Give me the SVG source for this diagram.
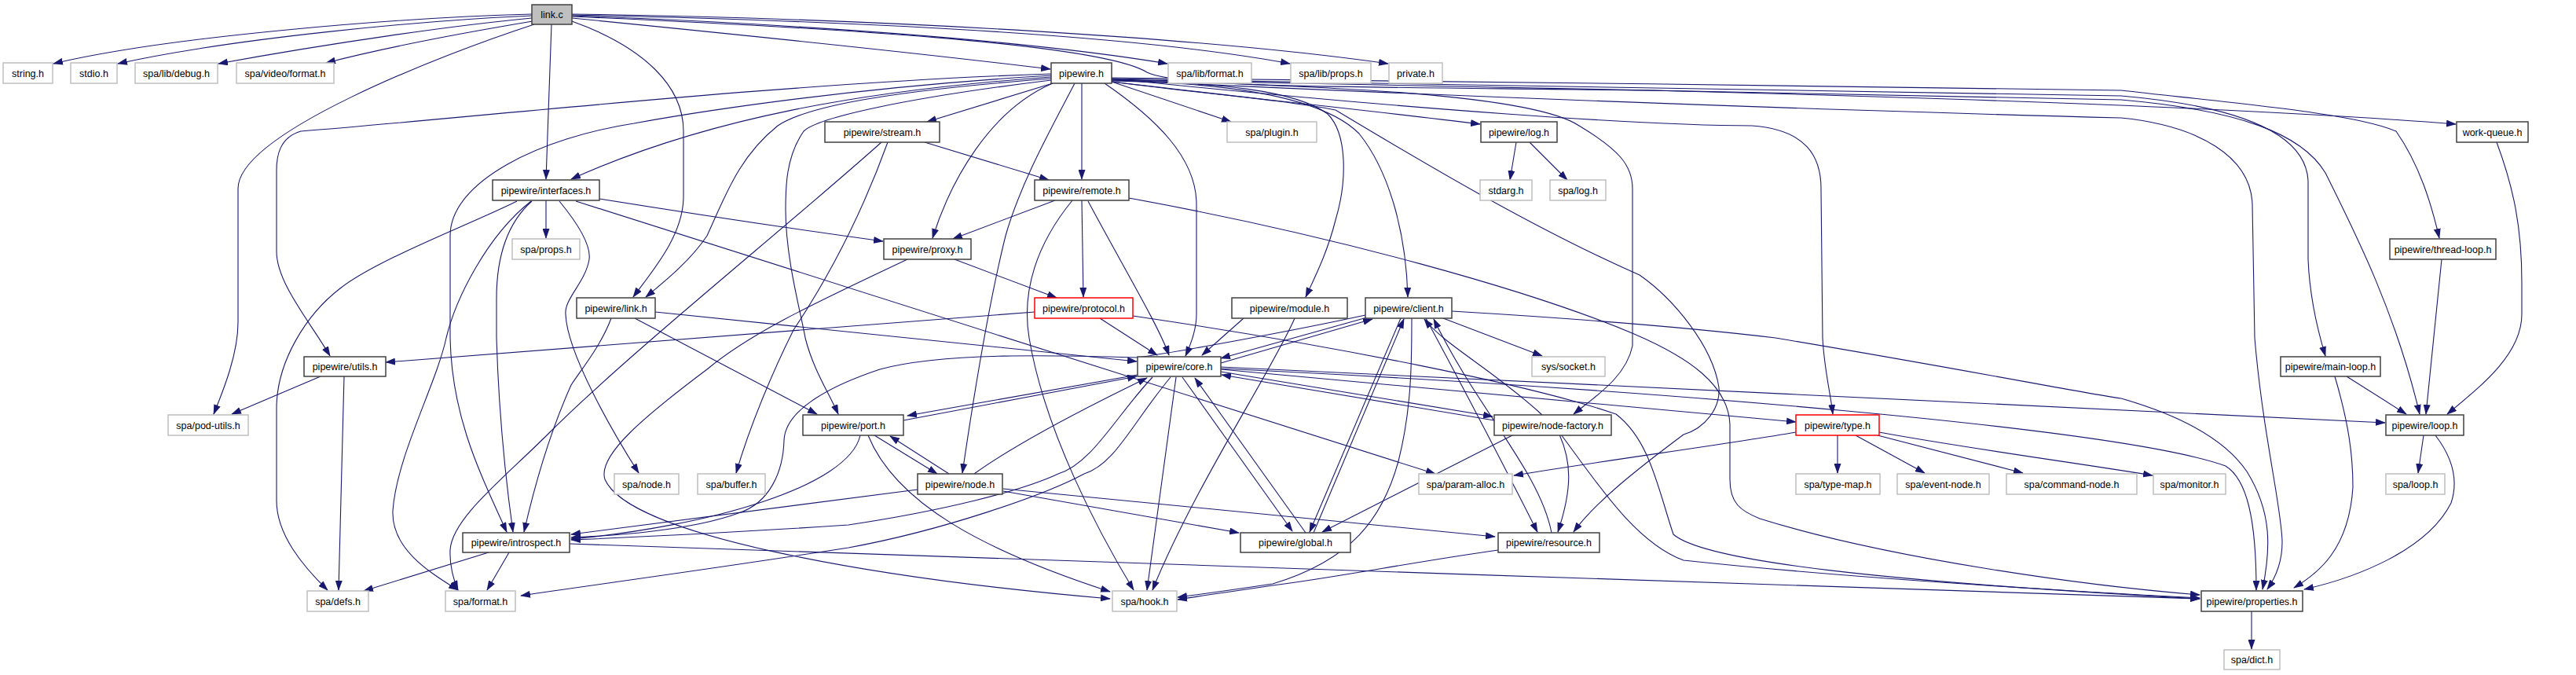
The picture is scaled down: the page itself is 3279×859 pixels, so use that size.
<svg xmlns="http://www.w3.org/2000/svg" width="3279" height="859" viewBox="0 0 3279 859">
<defs>
<marker id="a" markerWidth="13" markerHeight="9" refX="12" refY="4.5" orient="auto" markerUnits="userSpaceOnUse"><path d="M0,0 L13,4.5 L0,9 z" fill="#191970"/></marker>
<style>
.e{fill:none;stroke:#191970;stroke-width:1.1;marker-end:url(#a)}
.b rect{fill:#fff;stroke:#404040;stroke-width:1.5}
.g rect{fill:#fff;stroke:#bfbfbf;stroke-width:1.5}
.r rect{fill:#fff;stroke:#ff0000;stroke-width:1.5}
.m rect{fill:#bfbfbf;stroke:#404040;stroke-width:1.5}
text{font-family:"Liberation Sans",Arial,sans-serif;font-size:12.5px;text-anchor:middle;fill:#000}
</style>
</defs>
<rect width="3279" height="859" fill="#fff"/>
<g id="edges">
<path class="e" d="M677,18 C520,22 220,45 68,81"/>
<path class="e" d="M677,20 C540,26 300,48 150,81"/>
<path class="e" d="M677,23 C580,32 420,55 278,81"/>
<path class="e" d="M678,27 C600,40 500,58 415,80"/>
<path class="e" d="M680,31 C560,70 303,170 303,240 L303,410 C303,450 285,495 272,527"/>
<path class="e" d="M702,31 L695,228"/>
<path class="e" d="M728,27 C820,60 870,110 870,167 L870,250 C870,300 830,345 806,378"/>
<path class="e" d="M728,23 C900,40 1150,65 1337,88"/>
<path class="e" d="M728,20 C1000,30 1300,50 1486,81"/>
<path class="e" d="M728,19 C1100,27 1450,45 1642,81"/>
<path class="e" d="M728,18 C1150,24 1550,50 1767,81"/>
<path class="e" d="M728,21 C1050,35 1400,55 1460,92 C1500,112 1700,110 2100,115 C2500,125 2900,140 3126,158"/>
<path class="e" d="M1340,106 L1180,155"/>
<path class="e" d="M1377,106 L1377,228"/>
<path class="e" d="M1340,106 C1260,140 1210,230 1187,303"/>
<path class="e" d="M1338,98 C1100,115 900,150 727,228"/>
<path class="e" d="M1338,94 C1000,105 600,150 383,167 C355,175 352,200 352,217 L352,320 C352,360 395,410 420,453"/>
<path class="e" d="M1338,96 C1100,110 900,140 807,157 C690,175 573,230 573,300 L573,430 C575,530 610,600 645,677"/>
<path class="e" d="M1338,100 C1100,118 1020,140 990,160 C940,200 923,250 900,300 C880,330 850,355 822,378"/>
<path class="e" d="M1338,102 C1150,125 1040,150 1023,167 C1000,200 1000,240 1000,267 C1000,330 1020,400 1025,430 C1035,470 1055,500 1067,527"/>
<path class="e" d="M1368,106 C1340,160 1300,230 1280,300 C1260,380 1240,500 1225,602"/>
<path class="e" d="M1406,106 C1470,150 1523,200 1523,260 L1523,400 C1523,420 1515,440 1509,453"/>
<path class="e" d="M1415,104 L1567,155"/>
<path class="e" d="M1415,104 C1520,118 1700,135 1884,158"/>
<path class="e" d="M1415,102 C1550,105 1650,115 1690,145 C1715,170 1715,230 1700,280 C1690,320 1675,350 1662,378"/>
<path class="e" d="M1415,103 C1550,105 1680,120 1730,170 C1770,220 1790,300 1792,378"/>
<path class="e" d="M1415,101 C1700,110 1950,120 2010,160 C2060,190 2078,210 2078,240 L2078,440 C2070,480 2030,505 2003,527"/>
<path class="e" d="M1415,100 C1800,140 2100,160 2230,160 C2300,165 2318,200 2318,240 L2320,430 C2322,470 2330,500 2333,527"/>
<path class="e" d="M1415,99 C1800,104 2300,108 2700,115 C2860,133 3000,145 3050,167 C3080,210 3095,260 3105,303"/>
<path class="e" d="M1415,100 C1900,110 2400,115 2700,122 C2850,135 2935,170 2938,230 L2938,330 C2940,380 2950,420 2960,453"/>
<path class="e" d="M1415,101 C1900,112 2400,120 2700,127 C2850,140 2930,170 2960,220 C3000,300 3050,400 3080,527"/>
<path class="e" d="M1415,102 C2000,130 2500,145 2700,150 C2800,160 2865,200 2867,260 L2870,430 C2880,550 2905,650 2905,690 C2905,720 2893,740 2886,750"/>
<path class="e" d="M1415,104 C1550,120 1650,130 1700,140 C1800,200 1950,290 2087,350 C2130,380 2180,440 2188,493 C2190,520 2170,545 2143,553 C2080,600 2030,640 2003,677"/>
<path class="e" d="M695,255 L695,303"/>
<path class="e" d="M658,256 C600,285 480,330 433,367 C390,400 352,460 352,520 L352,637 C352,680 385,720 417,751"/>
<path class="e" d="M677,256 C650,280 632,320 632,380 L632,430 C635,530 645,620 653,677"/>
<path class="e" d="M676,256 C620,300 580,380 568,430 C555,490 505,580 500,650 C498,700 550,730 583,751"/>
<path class="e" d="M712,256 C740,290 752,315 750,330 C745,360 718,380 720,400 C722,450 780,550 813,602"/>
<path class="e" d="M763,253 C900,275 1000,290 1124,307"/>
<path class="e" d="M733,256 L1827,603"/>
<path class="e" d="M834,397 L1447,460"/>
<path class="e" d="M778,405 C765,440 740,470 727,490 C700,550 680,620 667,677"/>
<path class="e" d="M808,405 L1040,527"/>
<path class="e" d="M1177,181 L1335,229"/>
<path class="e" d="M1130,181 C1105,250 1070,330 1010,420 C985,470 955,540 937,602"/>
<path class="e" d="M1122,181 C1000,290 800,450 700,550 C640,610 575,660 573,700 C572,720 578,740 583,751"/>
<path class="e" d="M1343,255 L1213,304"/>
<path class="e" d="M1377,255 L1379,378"/>
<path class="e" d="M1385,256 C1430,340 1475,415 1488,452"/>
<path class="e" d="M1365,255 C1320,310 1300,370 1310,430 C1330,550 1400,680 1443,751"/>
<path class="e" d="M1437,252 C1700,300 1950,370 2080,425 C2150,455 2200,490 2202,540 L2202,610 C2202,640 2215,650 2240,660 C2400,710 2650,745 2800,757"/>
<path class="e" d="M1215,330 L1345,379"/>
<path class="e" d="M1155,330 C1050,380 960,420 900,470 C820,530 760,580 770,610 C800,680 1100,735 1413,762"/>
<path class="e" d="M1400,405 L1473,452"/>
<path class="e" d="M1317,397 C1000,420 700,445 491,461"/>
<path class="e" d="M1442,402 C1700,440 1950,490 2057,527 C2100,560 2110,620 2130,680 C2170,715 2400,740 2800,762"/>
<path class="e" d="M408,479 L295,527"/>
<path class="e" d="M438,479 L431,751"/>
<path class="e" d="M622,703 L463,752"/>
<path class="e" d="M648,703 L620,751"/>
<path class="e" d="M725,692 C1200,705 2200,745 2800,762"/>
<path class="e" d="M1448,477 L1155,529"/>
<path class="e" d="M1150,535 L1447,479"/>
<path class="e" d="M1113,554 L1193,603"/>
<path class="e" d="M1208,603 L1133,555"/>
<path class="e" d="M1095,554 C1080,620 900,670 727,686"/>
<path class="e" d="M1105,554 C1140,640 1250,700 1413,753"/>
<path class="e" d="M1168,623 L727,680"/>
<path class="e" d="M1240,603 C1300,560 1400,510 1460,481"/>
<path class="e" d="M1277,622 L1903,683"/>
<path class="e" d="M1277,625 L1577,678"/>
<path class="e" d="M1467,480 C1420,530 1390,590 1347,603 C1300,625 1200,650 1080,668 C900,680 800,684 727,687"/>
<path class="e" d="M1490,480 C1440,540 1420,590 1380,603 C1330,630 1200,675 1080,697 C900,725 750,745 663,758"/>
<path class="e" d="M1738,401 C1650,420 1500,448 1447,455 C1350,452 1200,448 1120,470 C1060,490 1000,520 998,560 C997,600 980,640 940,653 C880,675 780,682 727,684"/>
<path class="e" d="M1497,480 L1460,751"/>
<path class="e" d="M1505,480 L1645,676"/>
<path class="e" d="M1662,678 L1521,481"/>
<path class="e" d="M1554,462 L1747,406"/>
<path class="e" d="M1740,404 L1554,456"/>
<path class="e" d="M1554,473 L1900,530"/>
<path class="e" d="M1902,535 L1555,477"/>
<path class="e" d="M1554,470 L2286,537"/>
<path class="e" d="M1554,467 C2000,490 2600,515 3036,538"/>
<path class="e" d="M1554,469 C2100,495 2700,545 2833,593 C2860,610 2872,660 2872,751"/>
<path class="e" d="M1583,405 L1530,452"/>
<path class="e" d="M1648,405 C1620,470 1520,620 1467,751"/>
<path class="e" d="M1783,405 L1667,677"/>
<path class="e" d="M1672,678 L1787,406"/>
<path class="e" d="M1797,405 C1797,460 1797,520 1780,587 C1760,660 1720,713 1620,743 C1560,752 1530,756 1499,760"/>
<path class="e" d="M1837,405 L1963,453"/>
<path class="e" d="M1815,405 C1850,470 1903,570 1957,677"/>
<path class="e" d="M1975,678 C1960,600 1880,520 1825,406"/>
<path class="e" d="M1848,396 C2000,405 2160,418 2260,430 C2500,470 2650,500 2700,507 C2780,530 2833,560 2860,600 C2893,653 2890,700 2880,750"/>
<path class="e" d="M1963,528 C1900,470 1840,440 1813,406"/>
<path class="e" d="M1985,553 C2000,587 2002,620 1983,677"/>
<path class="e" d="M1927,553 L1683,677"/>
<path class="e" d="M1987,553 C2030,610 2080,690 2143,713 C2300,730 2500,745 2800,761"/>
<path class="e" d="M1907,700 C1800,715 1700,735 1620,745 C1560,754 1530,758 1499,763"/>
<path class="e" d="M1930,181 L1922,229"/>
<path class="e" d="M1947,181 L1995,229"/>
<path class="e" d="M2286,550 C2200,565 2050,585 1927,605"/>
<path class="e" d="M2339,554 L2339,602"/>
<path class="e" d="M2362,554 L2450,602"/>
<path class="e" d="M2390,554 L2575,602"/>
<path class="e" d="M2392,550 C2500,570 2650,590 2740,605"/>
<path class="e" d="M3178,181 C3200,240 3210,290 3210,360 L3210,400 C3210,450 3160,490 3115,527"/>
<path class="e" d="M3108,330 L3088,527"/>
<path class="e" d="M2987,479 L3063,527"/>
<path class="e" d="M2972,479 C2990,540 2995,580 2995,620 C2990,700 2950,730 2920,748"/>
<path class="e" d="M3085,554 L3078,602"/>
<path class="e" d="M3100,554 C3120,580 3130,610 3120,640 C3090,700 3000,735 2933,750"/>
<path class="e" d="M2866,778 L2866,826"/>
</g>
<g id="n-link-c" class="m"><rect x="677" y="6" width="51" height="25"/><text x="702.5" y="23">link.c</text></g>
<g id="n-string" class="g"><rect x="4" y="80" width="63" height="26"/><text x="35.5" y="97.5">string.h</text></g>
<g id="n-stdio" class="g"><rect x="90" y="80" width="59" height="26"/><text x="119.5" y="97.5">stdio.h</text></g>
<g id="n-debug" class="g"><rect x="172" y="80" width="105" height="26"/><text x="224.5" y="97.5">spa/lib/debug.h</text></g>
<g id="n-video-format" class="g"><rect x="301" y="80" width="124" height="26"/><text x="363" y="97.5">spa/video/format.h</text></g>
<g id="n-pipewire" class="b"><rect x="1338" y="80" width="77" height="26"/><text x="1376.5" y="97.5">pipewire.h</text></g>
<g id="n-lib-format" class="g"><rect x="1487" y="80" width="106" height="26"/><text x="1540" y="97.5">spa/lib/format.h</text></g>
<g id="n-lib-props" class="g"><rect x="1643" y="80" width="102" height="26"/><text x="1694" y="97.5">spa/lib/props.h</text></g>
<g id="n-private" class="g"><rect x="1768" y="80" width="68" height="26"/><text x="1802" y="97.5">private.h</text></g>
<g id="n-stream" class="b"><rect x="1050" y="155" width="146" height="26"/><text x="1123" y="172.5">pipewire/stream.h</text></g>
<g id="n-plugin" class="g"><rect x="1562" y="155" width="114" height="26"/><text x="1619" y="172.5">spa/plugin.h</text></g>
<g id="n-log" class="b"><rect x="1885" y="155" width="97" height="26"/><text x="1933.5" y="172.5">pipewire/log.h</text></g>
<g id="n-work-queue" class="b"><rect x="3127" y="155" width="91" height="26"/><text x="3172.5" y="172.5">work-queue.h</text></g>
<g id="n-interfaces" class="b"><rect x="627" y="229" width="136" height="26"/><text x="695" y="246.5">pipewire/interfaces.h</text></g>
<g id="n-remote" class="b"><rect x="1317" y="229" width="120" height="26"/><text x="1377" y="246.5">pipewire/remote.h</text></g>
<g id="n-stdarg" class="g"><rect x="1884" y="229" width="66" height="26"/><text x="1917" y="246.5">stdarg.h</text></g>
<g id="n-spa-log" class="g"><rect x="1973" y="229" width="71" height="26"/><text x="2008.5" y="246.5">spa/log.h</text></g>
<g id="n-props" class="g"><rect x="652" y="304" width="86" height="26"/><text x="695" y="321.5">spa/props.h</text></g>
<g id="n-proxy" class="b"><rect x="1125" y="304" width="111" height="26"/><text x="1180.5" y="321.5">pipewire/proxy.h</text></g>
<g id="n-thread-loop" class="b"><rect x="3042" y="304" width="135" height="26"/><text x="3109.5" y="321.5">pipewire/thread-loop.h</text></g>
<g id="n-link-h" class="b"><rect x="734" y="379" width="100" height="26"/><text x="784" y="396.5">pipewire/link.h</text></g>
<g id="n-protocol" class="r"><rect x="1317" y="379" width="125" height="26"/><text x="1379.5" y="396.5">pipewire/protocol.h</text></g>
<g id="n-module" class="b"><rect x="1568" y="379" width="147" height="26"/><text x="1641.5" y="396.5">pipewire/module.h</text></g>
<g id="n-client" class="b"><rect x="1738" y="379" width="110" height="26"/><text x="1793" y="396.5">pipewire/client.h</text></g>
<g id="n-utils" class="b"><rect x="387" y="454" width="104" height="25"/><text x="439" y="471">pipewire/utils.h</text></g>
<g id="n-core" class="b"><rect x="1448" y="454" width="106" height="25"/><text x="1501" y="471">pipewire/core.h</text></g>
<g id="n-socket" class="g"><rect x="1950" y="454" width="93" height="25"/><text x="1996.5" y="471">sys/socket.h</text></g>
<g id="n-main-loop" class="b"><rect x="2903" y="454" width="127" height="25"/><text x="2966.5" y="471">pipewire/main-loop.h</text></g>
<g id="n-pod-utils" class="g"><rect x="214" y="528" width="102" height="26"/><text x="265" y="545.5">spa/pod-utils.h</text></g>
<g id="n-port" class="b"><rect x="1022" y="528" width="128" height="26"/><text x="1086" y="545.5">pipewire/port.h</text></g>
<g id="n-node-factory" class="b"><rect x="1902" y="528" width="149" height="26"/><text x="1976.5" y="545.5">pipewire/node-factory.h</text></g>
<g id="n-type" class="r"><rect x="2286" y="528" width="106" height="26"/><text x="2339" y="545.5">pipewire/type.h</text></g>
<g id="n-loop" class="b"><rect x="3037" y="528" width="99" height="26"/><text x="3086.5" y="545.5">pipewire/loop.h</text></g>
<g id="n-spa-node" class="g"><rect x="782" y="603" width="82" height="26"/><text x="823" y="620.5">spa/node.h</text></g>
<g id="n-buffer" class="g"><rect x="888" y="603" width="86" height="26"/><text x="931" y="620.5">spa/buffer.h</text></g>
<g id="n-node" class="b"><rect x="1168" y="603" width="108" height="26"/><text x="1222" y="620.5">pipewire/node.h</text></g>
<g id="n-param-alloc" class="g"><rect x="1806" y="603" width="119" height="26"/><text x="1865.5" y="620.5">spa/param-alloc.h</text></g>
<g id="n-type-map" class="g"><rect x="2286" y="603" width="107" height="26"/><text x="2339.5" y="620.5">spa/type-map.h</text></g>
<g id="n-event-node" class="g"><rect x="2415" y="603" width="117" height="26"/><text x="2473.5" y="620.5">spa/event-node.h</text></g>
<g id="n-command-node" class="g"><rect x="2554" y="603" width="166" height="26"/><text x="2637" y="620.5">spa/command-node.h</text></g>
<g id="n-monitor" class="g"><rect x="2741" y="603" width="92" height="26"/><text x="2787" y="620.5">spa/monitor.h</text></g>
<g id="n-spa-loop" class="g"><rect x="3037" y="603" width="75" height="26"/><text x="3074.5" y="620.5">spa/loop.h</text></g>
<g id="n-introspect" class="b"><rect x="589" y="678" width="136" height="25"/><text x="657" y="695">pipewire/introspect.h</text></g>
<g id="n-global" class="b"><rect x="1579" y="678" width="140" height="25"/><text x="1649" y="695">pipewire/global.h</text></g>
<g id="n-resource" class="b"><rect x="1907" y="678" width="129" height="25"/><text x="1971.5" y="695">pipewire/resource.h</text></g>
<g id="n-defs" class="g"><rect x="391" y="752" width="78" height="26"/><text x="430" y="769.5">spa/defs.h</text></g>
<g id="n-format" class="g"><rect x="567" y="752" width="89" height="26"/><text x="611.5" y="769.5">spa/format.h</text></g>
<g id="n-hook" class="g"><rect x="1416" y="752" width="82" height="26"/><text x="1457" y="769.5">spa/hook.h</text></g>
<g id="n-properties" class="b"><rect x="2802" y="752" width="129" height="26"/><text x="2866.5" y="769.5">pipewire/properties.h</text></g>
<g id="n-dict" class="g"><rect x="2831" y="827" width="71" height="25"/><text x="2866.5" y="844">spa/dict.h</text></g>
</svg>
